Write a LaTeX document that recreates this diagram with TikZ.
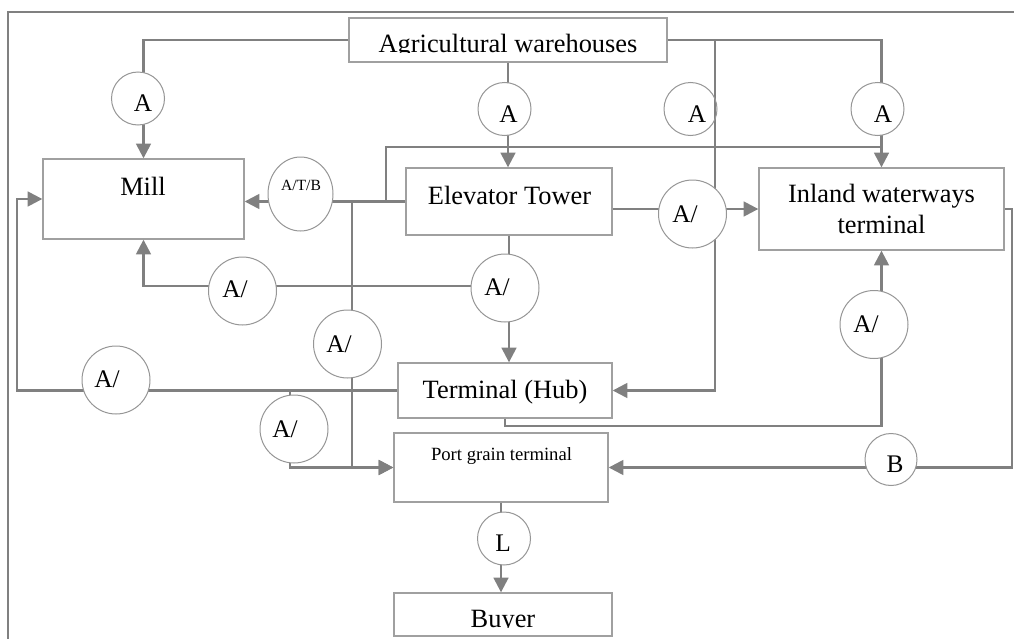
\documentclass[tikz,border=0pt]{standalone}
\usepackage{fontspec}
\setmainfont{Liberation Serif}
\usetikzlibrary{arrows.meta,fit,shapes.geometric}
\definecolor{linegray}{RGB}{128,128,128}
\definecolor{boxgray}{RGB}{160,160,160}
\definecolor{ringgray}{RGB}{150,150,150}
\begin{document}
\begin{tikzpicture}[x=0.75pt,y=-0.75pt,
  >={Triangle[length=11pt,width=11pt]},
  box/.style={draw=boxgray, line width=1pt, inner sep=0pt},
  conn/.style={draw=linegray, line width=1.85pt},
  frame/.style={draw=linegray, line width=1.5pt},
  ring/.style={circle, draw=ringgray, line width=0.75pt, fill=white, inner sep=0pt},
  smallring/.style={ring, minimum size=39.75pt},
  bigring/.style={ring, minimum size=51pt},
  lbl/.style={inner sep=0pt, anchor=base, font=\fontsize{19.8}{23}\selectfont},
  rlbl/.style={inner sep=0pt, anchor=base, font=\fontsize{19}{22}\selectfont},
  tiny/.style={inner sep=0pt, anchor=base, font=\fontsize{11.7}{14}\selectfont},
  small/.style={inner sep=0pt, anchor=base, font=\fontsize{14}{17}\selectfont}]
\useasboundingbox (0,0) rectangle (1014,639);

% outer frame
\draw[frame] (8,639) -- (8,12) -- (1014,12);

% boxes
\node[box, fit={(349,18) (667,62)}] (agri) {};
\node[box, fit={(43,159) (244,239)}] (mill) {};
\node[box, fit={(406,168) (612,235)}] (elev) {};
\node[box, fit={(759,168) (1004,250)}] (inland) {};
\node[box, fit={(398,363) (612,418)}] (hub) {};
\node[box, fit={(394,433) (608,502)}] (port) {};
\node[box, fit={(394,593) (612,636)}] (buyer) {};

% routing points
\coordinate (busX) at (715,40);
\coordinate (upT) at (386,147);
\coordinate (dn) at (352,0);
\coordinate (midL) at (508,286);
\coordinate (lx) at (17,0);
\coordinate (bx) at (290,0);
\coordinate (hb) at (0,426);
\coordinate (rx) at (1012,0);

% connectors
\draw[conn,->] (agri.west) -| (mill.north);
\draw[conn,->] (agri.south) -- (agri.south |- elev.north);
\draw[conn,->] (agri.east) -| (inland.north);
\draw[conn,->] (busX) |- (hub.east);
\draw[conn,->] (elev.west) -- (mill.east |- elev.west);
\draw[conn] (elev.west -| upT) |- (inland.north |- upT);
\draw[conn,->] (elev.west -| dn) |- (port.west);
\draw[conn,->] (elev.east |- inland.west) -- (inland.west);
\draw[conn,->] (elev.south) -- (elev.south |- hub.north);
\draw[conn,->] (midL) -| (mill.south);
\draw[conn,->] (hub.west) -| (lx |- mill.west) -- (mill.west);
\draw[conn,->] (bx |- hub.west) |- (port.west);
\draw[conn,->] (hub.south) -- (hub.south |- hb) -| (inland.south);
\draw[conn,->] (inland.east) -| (rx |- port.east) -- (port.east);
\draw[conn,->] (port.south) -- (port.south |- buyer.north);

% transport mode circles
\node[smallring] (a1) at (138,98.5) {};
\node[smallring] (a2) at (504.5,109) {};
\node[smallring, fill=none] (a3) at (690.5,109) {};
\node[smallring] (a4) at (877.5,109) {};
\node[ring, ellipse, minimum width=48.75pt, minimum height=55.5pt] (atb) at (300.5,194) {};
\node[bigring] (a5) at (692.5,214) {};
\node[bigring] (a6) at (242.5,291) {};
\node[bigring] (a7) at (505,288) {};
\node[bigring] (a8) at (347.5,344) {};
\node[bigring] (a9) at (116,380) {};
\node[bigring] (a10) at (294,429) {};
\node[bigring] (a11) at (874,324.5) {};
\node[smallring, minimum size=39pt] (b) at (891,459.5) {};
\node[smallring] (l) at (504,538.5) {};

% circle labels
\node[rlbl] (tA1) at (143,111) {A};
\node[rlbl] (tA2) at (508.5,122) {A};
\node[rlbl] (tA3) at (697,122) {A};
\node[rlbl] (tA4) at (883,122) {A};
\node[tiny] (tATB) at (301,190) {A/T/B};
\node[rlbl] (t5) at (685,222) {A/};
\node[rlbl] (t6) at (235,297) {A/};
\node[rlbl] (t7) at (497,295) {A/};
\node[rlbl] (t8) at (339,352) {A/};
\node[rlbl] (t9) at (107,387) {A/};
\node[rlbl] (t10) at (285,437) {A/};
\node[rlbl] (t11) at (866,332) {A/};
\node[rlbl] (tB) at (895,472) {B};
\node[rlbl] (tL) at (503,551) {L};

% box labels
\begin{scope}
  \clip (349,18) rectangle (667,52);
  \node[lbl] (agriT) at (508,52.5) {Agricultural warehouses};
\end{scope}
\node[lbl] (millT) at (143,195) {Mill};
\node[lbl] (elevT) at (509.5,204) {Elevator Tower};
\node[lbl] (inlandT1) at (881.5,202) {Inland waterways};
\node[lbl] (inlandT2) at (881.5,233) {terminal};
\node[lbl] (hubT) at (505,398) {Terminal (Hub)};
\node[small] (portT) at (501.5,460) {Port grain terminal};
\begin{scope}
  \clip (394,593) rectangle (612,627);
  \node[lbl] (buyerT) at (503,627.5) {Buyer};
\end{scope}
\end{tikzpicture}
\end{document}
